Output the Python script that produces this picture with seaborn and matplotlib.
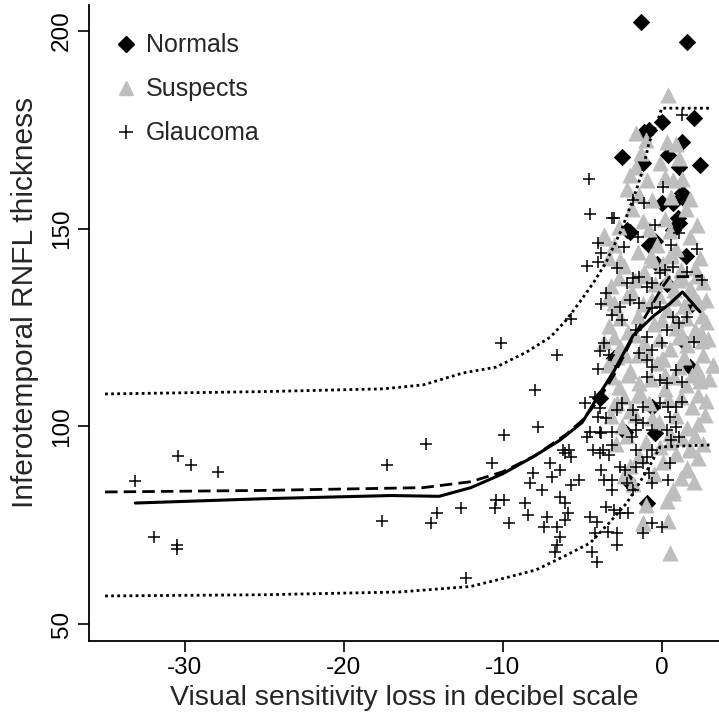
import numpy as np
import pandas as pd
import seaborn as sns
import matplotlib.pyplot as plt
from matplotlib.lines import Line2D

# --- data ---
normals_x = [-1.3, 1.6, 2.0, 0.0, -0.8, -1.1, 1.3, 0.4, -2.5, 2.4, 1.3, 1.3, 0.0, 0.7,
             -2.2, -2.0, 1.0, 1.1, -1.2, -0.8, 0.7, 1.1, 1.3, 1.8, -2.3, -0.4, -0.9,
             -0.6, -3.0, -3.9, -2.2, -0.4, -0.3, 1.5, 0.3, 1.9]
normals_y = [202.3, 197.2, 178.0, 177.0, 175.0, 174.5, 171.9, 168.6, 168.1, 166.1, 159.0,
             158.0, 156.5, 156.5, 149.7, 149.2, 152.7, 151.4, 166.6, 145.9, 149.7, 165.6,
             121.8, 115.0, 98.6, 98.3, 80.6, 104.9, 117.3, 107.2, 86.4, 147.0, 141.0,
             143.0, 136.0, 131.0]

suspects_x = [0.4, -1.6, 0.3, 1.1, -0.1, -1.3, -1.6, -0.9, 0.7, -0.6, -3.6, -2.2, -1.9,
              -1.2, 0.2, 1.5, -0.3, -1.5, 0.9, 1.8, -2.6, -3.0,
              -2.4, -1.1, 0.1, 1.2, 2.1,
              -3.2, -1.9, -0.4, 0.8, 1.8, 2.6,
              -2.9, -1.2, 0.3, 1.4, 2.3,
              -3.3, -2.1, -0.5, 0.9, 2.1, 2.8,
              -2.6, -1.1, 0.5, 1.6, 2.5,
              -3.4, -2.0, -0.3, 1.1, 2.2, 3.2,
              -2.7, -1.4, 0.2, 1.5, 2.4,
              -3.0, -2.0, -0.8, 1.9, 2.8,
              -2.5, -0.2, 1.6, 2.3,
              -2.9, -1.0, 1.8, 2.6,
              -2.0, 0.1, 1.6,
              -1.8, 0.7, 2.0,
              -1.0, 0.3, -1.2, 0.4, 0.5,
              -3.6, -3.0, -2.8, -3.6, 2.4, 2.5, 3.2, 1.6, 1.8, 0.7, -1.2, 0.5, -0.1,
              -0.7, 0.6, -1.7, 1.0, -0.2, 0.9, -2.3, -0.9, 0.0, 1.3, -1.5, 0.2,
              -1.0, 0.9,
              -2.0, 0.2, 1.3,
              -1.4, 0.6, 1.8,
              -2.7, -0.8, 0.5, 2.2,
              -3.3, -0.6, 0.6, 2.4,
              -2.7, -1.2, 0.3, 1.3, 2.2,
              -3.4, -2.2, -0.6, 0.8, 1.9, 2.8,
              -2.6, -1.5, 0.0, 1.5, 2.5,
              -3.0, -1.7, -0.2, 1.1, 2.0, 2.9,
              -2.8, -1.5, 0.1, 1.4, 2.6,
              -3.1, -2.1, -0.7, 0.8, 1.9, 3.0,
              -2.4, -1.3, 0.4, 1.2, 2.3,
              -3.2, -1.7, -0.6, 0.9, 2.7,
              -2.2, 0.5, 1.3, 2.1,
              -1.4, 0.9, 2.3,
              -2.4, -0.5, 1.2]
suspects_y = [183.8, 174.2, 171.9, 167.9, 166.6, 169.1, 165.6, 162.3, 162.3, 157.3, 148.4,
              160.0, 155.0, 152.0, 152.5, 155.0, 146.0, 144.0, 145.0, 148.0, 142.0, 146.0,
              140.5, 139.0, 141.0, 139.5, 140.0,
              135.5, 134.0, 136.0, 134.5, 135.0, 136.5,
              130.0, 131.0, 129.5, 130.5, 131.5,
              125.5, 124.0, 126.0, 125.0, 124.5, 126.5,
              120.0, 121.0, 119.5, 120.5, 121.5,
              115.5, 114.0, 116.0, 115.0, 114.5, 115.5,
              110.0, 111.0, 109.5, 110.5, 111.5,
              105.5, 104.0, 106.0, 105.0, 106.5,
              100.0, 101.0, 99.5, 100.5,
              95.5, 96.0, 94.5, 95.5,
              90.0, 91.0, 89.5,
              85.5, 84.0, 86.0,
              80.0, 81.0, 75.6, 76.0, 68.0,
              147.6, 131.2, 105.9, 121.3, 112.5, 123.1, 115.5, 89.0, 94.0, 83.2, 75.6,
              96.0, 94.8,
              143.0, 143.5, 137.0, 137.0, 133.0, 127.0, 118.0, 118.5, 117.0, 123.0, 108.0,
              113.0,
              172.5, 171.5,
              163.5, 163.0, 162.5,
              158.5, 158.0, 157.5,
              150.5, 150.0, 149.5, 151.0,
              142.5, 142.0, 143.0, 142.5,
              137.5, 138.0, 137.0, 137.5, 138.0,
              132.5, 133.0, 132.0, 132.5, 133.0, 132.0,
              127.5, 128.0, 127.0, 127.5, 128.0,
              122.5, 123.0, 122.0, 122.5, 123.0, 122.0,
              117.5, 118.0, 117.0, 117.5, 118.0,
              112.5, 113.0, 112.0, 112.5, 113.0, 112.0,
              107.5, 108.0, 107.0, 107.5, 108.0,
              102.5, 103.0, 102.0, 102.5, 103.0,
              97.5, 98.0, 97.0, 97.5,
              92.5, 93.0, 92.0,
              87.5, 88.0, 87.0]

glaucoma_x = [-33.1, -31.9, -30.5, -30.5, -30.4, -29.6, -27.9,
              -17.6, -17.3, -14.8, -14.5, -14.1, -12.6, -12.3,
              -10.7, -10.1, -9.9, -8.0, -7.8, -6.6, -5.7,
              -10.4, -9.9, -10.5, -9.6, -8.6, -8.4, -8.1, -8.3, -7.5, -7.0, -6.9, -6.4,
              -6.2, -5.8, -5.7, -7.2, -7.4, -6.6, -6.4, -6.6, -6.7, -6.4, -6.1, -6.1,
              -5.9, -5.7, -5.2, -4.5, -4.1, -4.2, -4.4, -4.1, -4.5, -3.9, -3.1, -4.3,
              -3.7, -3.1, -3.8, -3.6, -3.1, -3.1, -2.6, -2.3, -2.2, -1.8, -3.5, -3.0,
              -2.6, -2.1, -3.4, -2.8, -2.8, -2.8, -2.5, -1.8, -1.2, -1.6, -1.9, -1.6,
              -1.2, -0.6, -1.6, -0.9, -0.6, -1.6, -1.2, -0.8, -0.6, -0.6, 0.0, -1.2,
              -0.1, 0.4, 0.9, 1.3, 0.5, 0.9, 1.1, 0.3, 0.6, 0.5, 0.4,
              -2.2, -1.8, -1.4, -0.9, -0.6, -0.1, 0.2, 0.7, -2.6, -2.0, -1.4, -0.6,
              -0.1, -1.6, -0.9, -0.6, 0.0, 0.3, -1.4, -0.9, -0.6, -0.9, -0.1, 0.3, 0.9,
              1.3, 0.7, 1.1, 1.6, 2.0,
              -4.6, -4.5, -3.1, -4.0, -3.8, -4.7, -4.0, -3.5, -3.8, -3.1, -2.5, -3.6,
              -3.9, -3.3, -4.0, -4.8, -4.2, -3.9, -4.0, -3.5, -4.7, -3.8, -6.1, -3.9,
              -3.3,
              -3.0, -1.8, -1.1, 0.1, 1.3, 1.1, 2.2, 2.5,
              -2.4, -1.5, -0.4, 0.6, -2.8, 1.6]
glaucoma_y = [86.2, 72.0, 70.0, 69.0, 92.5, 90.2, 88.5,
              76.1, 90.2, 95.5, 75.6, 78.1, 79.4, 61.7,
              90.7, 121.1, 97.8, 109.2, 99.9, 118.1, 127.2,
              81.4, 81.4, 79.4, 75.6, 80.6, 77.6, 88.2, 85.7, 84.0, 90.7, 87.2, 89.0,
              94.0, 94.0, 92.3, 77.0, 74.6, 74.6, 72.0, 70.0, 68.2, 82.2, 80.6, 76.3,
              78.0, 85.2, 86.4, 77.0, 75.8, 73.0, 68.2, 65.7, 98.6, 98.6, 98.6, 94.0,
              94.0, 95.3, 89.0, 86.4, 86.4, 84.0, 89.7, 89.0, 85.7, 84.0, 79.6, 78.9,
              78.0, 78.0, 73.3, 73.0, 70.0, 104.1, 105.9, 104.1, 104.9, 101.6, 97.3, 99.1,
              100.9, 99.1, 94.0, 92.3, 94.0, 89.7, 90.7, 88.2, 85.7, 75.6, 74.6, 73.0,
              105.9, 104.9, 104.9, 106.2, 102.4, 99.9, 97.3, 99.1, 96.6, 90.7, 86.4,
              136.3, 137.5, 137.8, 135.3, 136.3, 138.8, 139.6, 140.3, 130.2, 132.0, 131.2,
              130.0, 130.2, 124.4, 122.6, 119.3, 121.1, 124.4, 118.6, 116.8, 115.0, 112.5,
              111.7, 111.0, 114.3, 111.2, 127.7, 126.2, 127.7, 121.3,
              162.6, 153.7, 152.7, 146.4, 143.9, 140.6, 141.6, 133.7, 131.0, 128.2, 126.9,
              121.1, 119.1, 118.0, 114.5, 105.9, 107.4, 104.7, 102.4, 102.0, 97.2, 98.3,
              93.3, 93.3, 92.8,
              152.7, 157.3, 156.5, 160.5, 178.8, 148.9, 145.0, 137.0,
              145.5, 148.0, 151.0, 146.0, 140.0, 139.0]

# fitted curves
solid_x = [-33.1, -25.0, -17.0, -14.0, -12.0, -10.0, -8.0, -6.4, -5.0, -4.1, -3.0, -1.8,
           -0.5, 0.5, 1.3, 2.4]
solid_y = [80.6, 81.7, 82.5, 82.3, 84.5, 88.0, 92.5, 96.5, 101.0, 107.0, 114.0, 123.0,
           128.0, 131.0, 134.0, 129.0]
dashed_x = [-35.0, -25.0, -15.0, -12.0, -10.0, -8.0, -6.0, -5.0, -4.0, -3.0, -2.0, -1.0,
            0.0, 0.5, 2.5]
dashed_y = [83.4, 83.8, 84.5, 86.0, 88.5, 92.5, 98.0, 101.5, 106.5, 113.0, 121.0, 128.0,
            135.0, 137.8, 138.0]
upper_x = [-35.0, -25.0, -17.5, -15.0, -12.5, -10.4, -8.5, -7.0, -6.0, -5.2, -4.3, -3.5,
           -2.5, -1.6, -1.2, -0.8, -0.3, 0.0, 3.0]
upper_y = [108.2, 108.8, 109.5, 110.5, 113.5, 115.0, 118.8, 122.6, 126.9, 131.2, 136.3,
           141.5, 150.0, 159.8, 164.8, 171.7, 176.7, 180.5, 180.5]
lower_x = [-35.0, -25.0, -16.5, -12.0, -10.0, -7.9, -6.2, -4.5, -3.3, -2.2, -1.4, -0.8,
           -0.1, 3.0]
lower_y = [57.1, 57.4, 58.1, 59.5, 61.5, 63.7, 67.0, 70.5, 75.6, 80.6, 85.7, 89.7, 94.8,
           95.3]

sns.set_style('ticks')
plt.rcParams['font.family'] = ['Liberation Sans', 'DejaVu Sans']
plt.rcParams['axes.unicode_minus'] = False

fig = plt.figure(figsize=(7.19, 7.17), dpi=100)
ax = fig.add_axes([0.124, 0.106, 0.876, 0.887])

sns.scatterplot(x=normals_x, y=normals_y, marker='D', color='black', s=70,
                edgecolor='black', linewidth=0.5, ax=ax)
sns.scatterplot(x=suspects_x, y=suspects_y, marker='^', color='#bebebe', s=120,
                edgecolor='#bebebe', linewidth=0.5, ax=ax)
sns.scatterplot(x=glaucoma_x, y=glaucoma_y, marker='+', color='black', s=80,
                linewidth=1.1, ax=ax)

sns.lineplot(x=solid_x, y=solid_y, color='black', lw=2.2, sort=False, ax=ax)
sns.lineplot(x=dashed_x, y=dashed_y, color='black', lw=2.0, sort=False,
             linestyle=(0, (4.5, 2.2)), ax=ax)
sns.lineplot(x=upper_x, y=upper_y, color='black', lw=2.0, sort=False,
             linestyle=(0, (1.0, 1.2)), ax=ax)
sns.lineplot(x=lower_x, y=lower_y, color='black', lw=2.0, sort=False,
             linestyle=(0, (1.0, 1.2)), ax=ax)

ax.set_xlim(-36.0, 3.6)
ax.set_ylim(45.7, 206.6)
ax.set_xticks([-30, -20, -10, 0])
ax.set_yticks([50, 100, 150, 200])
ax.set_yticklabels(['50', '100', '150', '200'], rotation=90, va='center')
ax.tick_params(labelsize=17.5, length=8, width=1.2, colors='black')
ax.set_xlabel('Visual sensitivity loss in decibel scale', fontsize=20.5, labelpad=4)
ax.set_ylabel('Inferotemporal RNFL thickness', fontsize=21.5)
ax.yaxis.set_label_coords(-0.079, 0.533)
sns.despine(ax=ax)
for sp in ['left', 'bottom']:
    ax.spines[sp].set_linewidth(1.3)
    ax.spines[sp].set_color('black')

handles = [
    Line2D([], [], marker='D', color='black', linestyle='none', markersize=8),
    Line2D([], [], marker='^', color='#bebebe', linestyle='none', markersize=10),
    Line2D([], [], marker='+', color='black', linestyle='none', markersize=10,
           markeredgewidth=1.1),
]
ax.legend(handles, ['Normals', 'Suspects', 'Glaucoma'], loc='upper left',
          bbox_to_anchor=(0.019, 0.975), frameon=False, fontsize=18,
          handlelength=1.0, handletextpad=0.3, labelspacing=0.8, borderpad=0)

fig.savefig('out.png', dpi=100)
